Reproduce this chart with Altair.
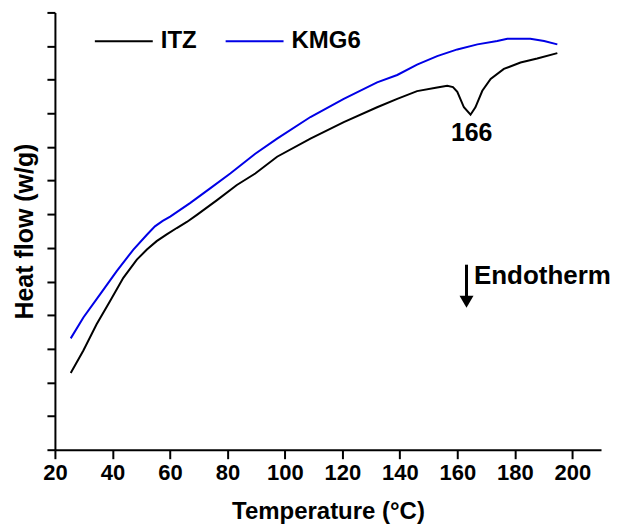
import altair as alt
import pandas as pd

# ITZ curve (temperature °C, heat flow arbitrary units)
itz_t = [25.5, 29.9, 34.5, 39.2, 43.8, 48.5, 52.0, 55.4, 58.9, 62.4, 65.9, 69.4, 76.4, 83.3,
         89.7, 97.3, 108.9, 120.5, 132.1, 139.1, 146.0, 153.0, 156.5, 158.5, 160.0, 162.3,
         164.6, 166.3, 168.7, 171.6, 176.2, 182.0, 187.8, 194.8]
itz_h = [2.28, 2.95, 3.73, 4.42, 5.11, 5.65, 5.95, 6.20, 6.40, 6.59, 6.77, 6.98, 7.42, 7.87,
         8.21, 8.71, 9.25, 9.74, 10.18, 10.43, 10.66, 10.77, 10.82, 10.78, 10.64, 10.18,
         9.96, 10.18, 10.67, 11.02, 11.32, 11.51, 11.63, 11.79]

# KMG6 curve
kmg_t = [25.5, 29.9, 35.7, 41.5, 47.3, 52.0, 54.8, 57.5, 60.1, 67.0, 74.0, 81.0, 89.7, 97.3,
         108.9, 120.5, 132.1, 139.1, 146.0, 153.0, 160.0, 167.0, 173.9, 177.4, 185.4, 190.2,
         194.8]
kmg_h = [3.31, 3.93, 4.62, 5.31, 5.95, 6.39, 6.64, 6.80, 6.93, 7.33, 7.77, 8.21, 8.80, 9.25,
         9.89, 10.43, 10.92, 11.14, 11.45, 11.70, 11.90, 12.05, 12.15, 12.22, 12.22, 12.15,
         12.05]

series = ["ITZ", "KMG6"]
colors = ["#000000", "#0000e6"]

x_ticks = [20, 40, 60, 80, 100, 120, 140, 160, 180, 200]
y_ticks = list(range(0, 14))

# annotations
peak_label = ["166"]
peak_x = [165.0]
peak_y = [9.42]
endo_label = ["Endotherm"]
endo_x = [165.8]
endo_y = [5.15]
arrow_x = [163.2]
arrow_top = [5.5]
arrow_bottom = [4.5]
arrow_head = [4.4]

df = pd.concat([
    pd.DataFrame({"t": itz_t, "h": itz_h, "s": "ITZ", "o": range(len(itz_t))}),
    pd.DataFrame({"t": kmg_t, "h": kmg_h, "s": "KMG6", "o": range(len(kmg_t))}),
])

FONT = "Liberation Sans"

xs = alt.Scale(domain=[20, 210], nice=False, zero=False)
ys = alt.Scale(domain=[0, 13], nice=False, zero=False)

x_axis = alt.Axis(title="Temperature (°C)", values=x_ticks, labelFontSize=22, titleFontSize=24,
                  labelPadding=4, titlePadding=16, tickSize=9, labelFlush=False)
y_axis = alt.Axis(title="Heat flow (w/g)", values=y_ticks, labels=False, titleFontSize=25,
                  titlePadding=8, tickSize=8)

lines = alt.Chart(df).mark_line(strokeWidth=2).encode(
    x=alt.X("t:Q", scale=xs, axis=x_axis),
    y=alt.Y("h:Q", scale=ys, axis=y_axis),
    color=alt.Color("s:N", scale=alt.Scale(domain=series, range=colors), legend=alt.Legend(
        title=None, orient="none", legendX=39, legendY=-1, direction="horizontal",
        symbolType="stroke", symbolSize=3364, symbolStrokeWidth=2, labelFontSize=24,
        labelFont=FONT, labelFontWeight="bold", labelOffset=7, columnPadding=25, padding=0)),
    order="o:Q",
)

peak = alt.Chart(pd.DataFrame({"t": peak_x, "h": peak_y, "l": peak_label})).mark_text(
    font=FONT, fontSize=25, fontWeight="bold", baseline="middle", align="center"
).encode(x=alt.X("t:Q", scale=xs, axis=x_axis), y=alt.Y("h:Q", scale=ys, axis=y_axis), text="l:N")

endo = alt.Chart(pd.DataFrame({"t": endo_x, "h": endo_y, "l": endo_label})).mark_text(
    font=FONT, fontSize=26, fontWeight="bold", baseline="middle", align="left"
).encode(x=alt.X("t:Q", scale=xs, axis=x_axis), y=alt.Y("h:Q", scale=ys, axis=y_axis), text="l:N")

arrow_df = pd.DataFrame({"t": arrow_x, "h1": arrow_top, "h2": arrow_bottom, "hh": arrow_head})
shaft = alt.Chart(arrow_df).mark_rule(strokeWidth=3, color="black").encode(
    x=alt.X("t:Q", scale=xs, axis=x_axis), y=alt.Y("h1:Q", scale=ys, axis=y_axis), y2="h2:Q")
head = alt.Chart(arrow_df).mark_point(shape="triangle-down", filled=True, size=196,
                                      color="black", opacity=1).encode(
    x=alt.X("t:Q", scale=xs, axis=x_axis), y=alt.Y("hh:Q", scale=ys, axis=y_axis))

chart = alt.layer(lines, peak, endo, shaft, head).properties(
    width=547, height=438, padding={"left": 5, "top": 3, "right": 0, "bottom": 0}
).configure_view(stroke=None).configure_axis(
    grid=False, domainColor="black", domainWidth=2, tickColor="black", tickWidth=2,
    labelFont=FONT, titleFont=FONT, labelFontWeight="bold", titleFontWeight="bold",
    labelColor="black", titleColor="black"
)

chart.save("out.html", embed_options={"renderer": "svg", "actions": False})
